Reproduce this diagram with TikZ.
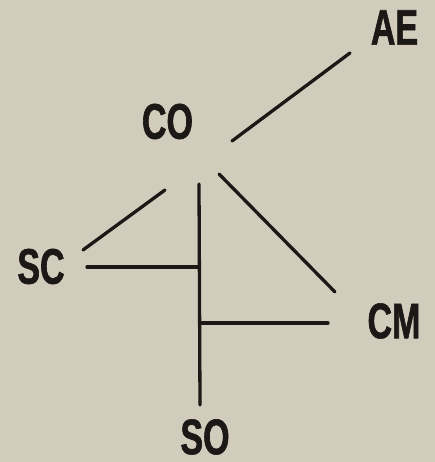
\documentclass[tikz,border=0pt]{standalone}
\usepackage{fontspec}
\newfontfamily\condsans[FakeStretch=0.68,FakeBold=1.2]{Liberation Sans}
\definecolor{paper}{RGB}{209,204,187}
\definecolor{ink}{RGB}{28,24,22}
\begin{document}
\begin{tikzpicture}[x=1pt,y=1pt,
  lbl/.style={inner sep=0pt,anchor=center,text=ink,font=\condsans\bfseries\fontsize{50}{50}\selectfont},
  link/.style={draw=ink,line width=3.3pt,line cap=round}]
\fill[paper] (0,0) rectangle (435,462);
\useasboundingbox (0,0) rectangle (435,462);
% labels (y = 462 - pixel row)
\node[lbl] (AE) at (394.5,434.5) {AE};
\node[lbl] (CO) at (167.5,340.5) {CO};
\node[lbl] (SC) at (41,195.5) {SC};
\node[lbl] (CM) at (394,141) {CM};
\node[lbl] (SO) at (205,25) {SO};
% connector end points
\coordinate (coAE) at (232,321);
\coordinate (aeCO) at (350,409);
\coordinate (coSC) at (165,272);
\coordinate (scCO) at (83,212);
\coordinate (coCM) at (219,288);
\coordinate (cmCO) at (335,170);
\coordinate (coSO) at (199,278);
\coordinate (soCO) at (200,57);
\coordinate (jSC) at (199,195);
\coordinate (scJ) at (87,195);
\coordinate (jCM) at (200,139);
\coordinate (cmJ) at (328,139);
% connectors
\draw[link] (coAE) -- (aeCO);
\draw[link] (coSC) -- (scCO);
\draw[link] (coCM) -- (cmCO);
\draw[link] (coSO) -- (soCO);
\draw[link] (scJ) -- (jSC);
\draw[link] (jCM) -- (cmJ);
\end{tikzpicture}
\end{document}
